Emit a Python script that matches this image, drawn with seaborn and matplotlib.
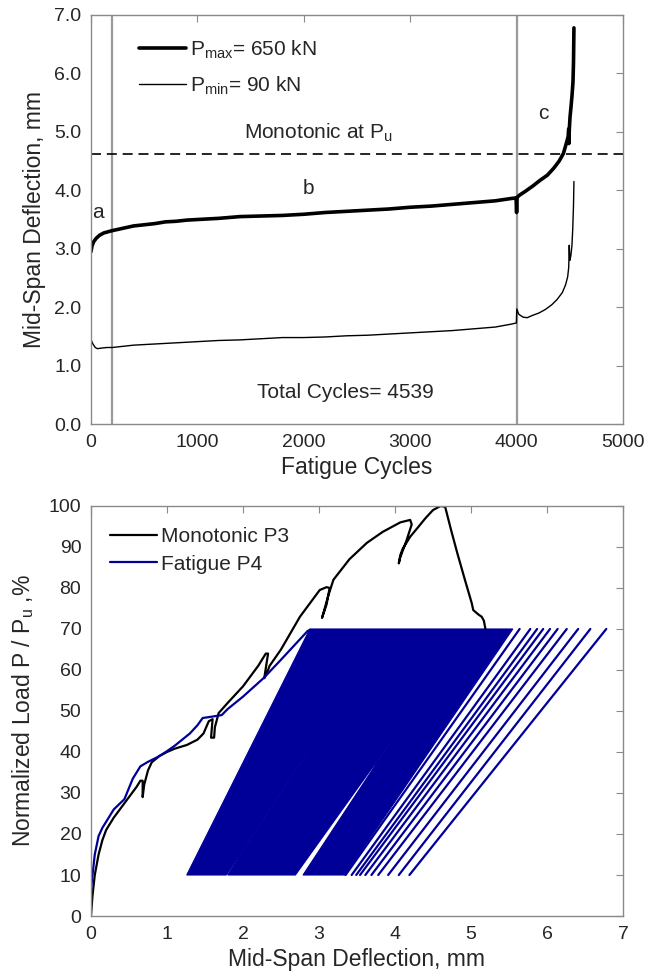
import numpy as np
import pandas as pd
import seaborn as sns
import matplotlib.pyplot as plt

# ---- top panel: mid-span deflection vs fatigue cycles ----
cyc_max = [0, 10, 25, 50, 80, 120, 160, 200, 300, 400, 500, 600, 700, 800, 900,
           1000, 1200, 1400, 1600, 1800, 2000, 2200, 2400, 2600, 2800, 3000,
           3200, 3400, 3600, 3800, 3950, 3995, 4000, 4005, 4030, 4080, 4150,
           4220, 4290, 4350, 4400, 4440, 4470, 4485, 4490, 4491, 4495, 4502,
           4510, 4520, 4530, 4535, 4539]
defl_max = [2.95, 3.05, 3.12, 3.18, 3.23, 3.27, 3.29, 3.31, 3.35, 3.39, 3.41,
            3.43, 3.46, 3.47, 3.49, 3.50, 3.52, 3.55, 3.56, 3.57, 3.59, 3.62,
            3.64, 3.66, 3.68, 3.71, 3.73, 3.76, 3.79, 3.82, 3.86, 3.87, 3.62,
            3.88, 3.92, 3.98, 4.07, 4.17, 4.26, 4.38, 4.50, 4.63, 4.82, 4.92,
            5.05, 4.80, 5.02, 5.25, 5.40, 5.60, 5.85, 6.20, 6.78]

cyc_min = [0, 15, 40, 60, 100, 150, 200, 300, 400, 500, 600, 700, 800, 900,
           1000, 1200, 1400, 1600, 1800, 2000, 2200, 2400, 2600, 2800, 3000,
           3200, 3400, 3600, 3800, 3950, 3998, 4002, 4020, 4060, 4100, 4150,
           4210, 4270, 4330, 4380, 4430, 4460, 4480, 4490, 4495, 4500, 4510,
           4520, 4528, 4535, 4539]
defl_min = [1.45, 1.38, 1.31, 1.29, 1.30, 1.31, 1.31, 1.33, 1.35, 1.36, 1.37,
            1.38, 1.39, 1.40, 1.41, 1.43, 1.44, 1.46, 1.48, 1.48, 1.49, 1.51,
            1.52, 1.54, 1.56, 1.58, 1.60, 1.63, 1.66, 1.71, 1.73, 1.97, 1.88,
            1.83, 1.82, 1.86, 1.90, 1.96, 2.04, 2.13, 2.25, 2.38, 2.52, 2.68,
            3.06, 2.80, 2.88, 3.05, 3.35, 3.75, 4.15]

zone_bounds = [200, 4000]
mono_pu_defl = 4.62

# ---- bottom panel: normalized load vs deflection ----
mono_defl = [0, 0.02, 0.05, 0.10, 0.15, 0.20, 0.30, 0.40, 0.50, 0.60, 0.65,
             0.68, 0.68, 0.70, 0.75, 0.80, 0.90, 1.00, 1.10, 1.26, 1.40, 1.48,
             1.55, 1.60, 1.58, 1.62, 1.63, 1.68, 1.80, 2.00, 2.20, 2.30, 2.33,
             2.28, 2.31, 2.35, 2.50, 2.75, 3.01, 3.10, 3.14, 3.10, 3.04, 3.06,
             3.12, 3.19, 3.40, 3.63, 3.84, 4.07, 4.20, 4.22, 4.15, 4.07, 4.05,
             4.07, 4.10, 4.20, 4.29, 4.40, 4.50, 4.60, 4.66, 4.74, 4.82, 4.92,
             5.01, 5.03, 5.10, 5.14, 5.17, 5.19]
mono_load = [0, 5, 10, 15, 18.5, 21, 24, 26.5, 29, 31.5, 33, 33, 29, 32, 35.5,
             37.5, 39, 40, 40.8, 41.7, 43, 44.5, 47.5, 48, 43.5, 43.5, 46,
             49.5, 52, 56, 61, 64, 64, 58, 59, 61, 65, 73, 79.5, 80.2, 80, 76,
             72.7, 74, 78, 82, 87, 91, 93.7, 96, 96.6, 95.5, 91.5, 87.5, 86,
             88, 89.5, 92.5, 94.5, 97, 99, 100, 99.8, 94, 88.5, 82, 76.3, 74.6,
             73.5, 73, 72, 70]

env_defl = [0, 0.02, 0.05, 0.10, 0.15, 0.20, 0.30, 0.44, 0.55, 0.65, 0.75,
            0.88, 1.00, 1.10, 1.20, 1.30, 1.40, 1.47, 1.55, 1.72, 1.80, 2.00,
            2.27, 2.50, 2.70, 2.85, 2.88]
env_load = [6.5, 10, 15, 19.5, 21.5, 23, 26, 28.5, 33.5, 36.5, 37.6, 38.8,
            40.2, 41.5, 43, 44.5, 46.5, 48.3, 48.5, 49, 50.5, 53.5, 58, 62.5,
            66.5, 69.5, 69.8]

p_min, p_max = 10, 70
# outline of the densely packed cycles (valleys at p_min, peaks at p_max)
band_defl = [1.26, 2.88, 5.55, 3.34, 2.79, 3.96, 2.69, 1.80, 2.95, 1.78]
band_load = [10, 70, 70, 10, 10, 42.9, 10, 10, 42.9, 10]
# last separated cycles
last_valley = [3.35, 3.43, 3.49, 3.54, 3.61, 3.69, 3.78, 3.91, 4.05, 4.19]
last_peak = [5.64, 5.78, 5.87, 5.95, 6.04, 6.14, 6.26, 6.41, 6.57, 6.78]

sns.set_style('white')
plt.rcParams['font.family'] = ['Liberation Sans', 'DejaVu Sans']
plt.rcParams['mathtext.default'] = 'regular'
txt = '#262626'
spine = '#8a8a8a'
navy = '#000099'

fig = plt.figure(figsize=(6.48, 9.8), dpi=100)
ax1 = fig.add_axes([0.1404, 0.5673, 0.8210, 0.4174])
ax2 = fig.add_axes([0.1404, 0.0653, 0.8210, 0.4184])

# top
for b in zone_bounds:
    ax1.axvline(b, color='#9a9a9a', lw=1.6, zorder=1)
ax1.axhline(mono_pu_defl, color='k', lw=1.2, ls=(0, (6, 3.5)), zorder=1)
df_max = pd.DataFrame({'cyc': cyc_max, 'd': defl_max})
df_min = pd.DataFrame({'cyc': cyc_min, 'd': defl_min})
sns.lineplot(data=df_max, x='cyc', y='d', ax=ax1, color='k', lw=2.6,
             sort=False, estimator=None, label=r'P$_{max}$= 650 kN')
sns.lineplot(data=df_min, x='cyc', y='d', ax=ax1, color='k', lw=1.0,
             sort=False, estimator=None, label=r'P$_{min}$= 90 kN')
ax1.set_xlim(0, 5000)
ax1.set_ylim(0, 7)
ax1.set_xticks(range(0, 5001, 1000))
ax1.set_yticks(np.arange(0, 7.01, 1))
ax1.set_yticklabels([f'{v:.1f}' for v in np.arange(0, 7.01, 1)])
ax1.set_xlabel('Fatigue Cycles', fontsize=16.5, color=txt, labelpad=4)
ax1.set_ylabel('Mid-Span Deflection, mm', fontsize=16.5, color=txt, labelpad=6)
ax1.text(66, 3.52, 'a', fontsize=15, ha='center', va='baseline', color=txt)
ax1.text(2040, 3.94, 'b', fontsize=15, ha='center', va='baseline', color=txt)
ax1.text(4248, 5.22, 'c', fontsize=15, ha='center', va='baseline', color=txt)
ax1.text(2133, 4.89, r'Monotonic at P$_u$', fontsize=15, ha='center',
         va='baseline', color=txt)
ax1.text(2387, 0.44, 'Total Cycles= 4539', fontsize=15, ha='center',
         va='baseline', color=txt)
ax1.legend(loc='upper left', bbox_to_anchor=(0.09, 0.943), frameon=False,
           fontsize=15, handlelength=2.26, handletextpad=0.2,
           borderaxespad=0, borderpad=0, labelspacing=0.68)

# bottom
sns.lineplot(x=mono_defl, y=mono_load, ax=ax2, color='k', lw=1.6,
             sort=False, estimator=None, label='Monotonic P3')
ax2.fill(band_defl, band_load, color=navy, lw=0.8)
for v, p in zip(last_valley, last_peak):
    ax2.plot([v, p], [p_min, p_max], color=navy, lw=1.6)
sns.lineplot(x=env_defl, y=env_load, ax=ax2, color=navy, lw=1.6,
             sort=False, estimator=None, label='Fatigue P4')
ax2.set_xlim(0, 7)
ax2.set_ylim(0, 100)
ax2.set_xticks(range(0, 8))
ax2.set_yticks(range(0, 101, 10))
ax2.set_xlabel('Mid-Span Deflection, mm', fontsize=16.5, color=txt, labelpad=4)
ax2.set_ylabel(r'Normalized Load P / P$_u$ ,%', fontsize=16.5, color=txt,
               labelpad=9)
ax2.legend(loc='upper left', bbox_to_anchor=(0.036, 0.948), frameon=False,
           fontsize=15, handlelength=2.26, handletextpad=0.2,
           borderaxespad=0, borderpad=0, labelspacing=0.4)

for ax in (ax1, ax2):
    for s in ax.spines.values():
        s.set_color(spine)
        s.set_linewidth(1.0)
    ax.tick_params(direction='in', top=True, right=True, length=5,
                   color=spine, labelsize=14, labelcolor=txt, pad=7)

fig.savefig('out.png', dpi=100)
